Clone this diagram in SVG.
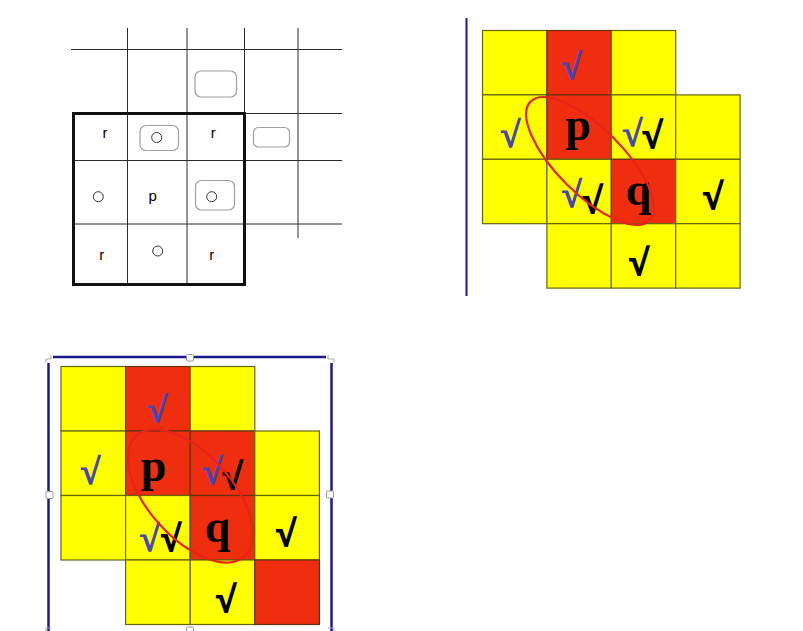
<svg xmlns="http://www.w3.org/2000/svg" width="803" height="631" viewBox="0 0 803 631">
<style>
.thin{stroke:#2a2a2a;stroke-width:1;fill:none}
.thick{stroke:#111;stroke-width:3;fill:none}
.rr{fill:#fff;stroke:#a0a0a0;stroke-width:1.2}
.circ{fill:#fff;stroke:#333;stroke-width:1}
.lbl{font-family:"Liberation Sans",Arial,sans-serif;font-size:15px;fill:#000;text-anchor:middle}
.y{fill:#ffff00;stroke:#66660f;stroke-width:1.2}
.r{fill:#ee2e0e;stroke:#66330f;stroke-width:1.2}
.big{font-family:"Liberation Serif","Times New Roman",serif;font-weight:bold;font-size:46px;fill:#000;text-anchor:middle}
.cb{font-family:"Liberation Serif","Times New Roman",serif;font-size:36px;fill:#4646b4;stroke:#4646b4;stroke-width:1.3;text-anchor:middle}
.ck{font-family:"Liberation Serif","Times New Roman",serif;font-weight:bold;font-size:36px;fill:#000;stroke:#000;stroke-width:2;text-anchor:middle}
.ell{fill:none;stroke:#e8221a;stroke-width:2.2}
.nav{stroke:#1a1a8c;stroke-width:2.5;fill:none}
.hd{fill:#fff;stroke:#9a9a9a;stroke-width:1}
</style>

<g id="panel1">
  <g id="grid1">
    <line class="thin" x1="71" y1="49.5" x2="342" y2="49.5"/>
    <line class="thin" x1="244" y1="113.5" x2="342" y2="113.5"/>
    <line class="thin" x1="73" y1="160.5" x2="342" y2="160.5"/>
    <line class="thin" x1="73" y1="224" x2="342" y2="224"/>
    <line class="thin" x1="127.5" y1="28" x2="127.5" y2="284"/>
    <line class="thin" x1="187" y1="28" x2="187" y2="284"/>
    <line class="thin" x1="244.5" y1="28" x2="244.5" y2="113"/>
    <line class="thin" x1="298" y1="28" x2="298" y2="238"/>
    <rect class="thick" x="73.5" y="113.5" width="171" height="171"/>
  </g>
  <rect id="slot1" class="rr" x="195" y="71" width="41.5" height="26" rx="6"/>
  <rect id="slot2" class="rr" x="253.5" y="127.5" width="36" height="19.5" rx="5"/>
  <g id="c_top"><rect class="rr" x="140" y="125.5" width="38.5" height="25" rx="6"/><circle class="circ" cx="156.7" cy="137.5" r="5"/></g>
  <g id="c_right"><rect class="rr" x="195.5" y="180.5" width="39" height="29.5" rx="6"/><circle class="circ" cx="211.7" cy="196.7" r="5"/></g>
  <g id="c_left"><circle class="circ" cx="98.3" cy="196.7" r="5"/></g>
  <g id="c_bottom"><circle class="circ" cx="157.7" cy="251" r="5"/></g>
  <text class="lbl" x="105" y="138">r</text>
  <text class="lbl" x="213.3" y="137.5">r</text>
  <text class="lbl" x="152.7" y="201">p</text>
  <text class="lbl" x="101.7" y="260">r</text>
  <text class="lbl" x="211.7" y="260">r</text>
</g>

<g id="panel2">
  <line class="nav" x1="466.5" y1="18" x2="466.5" y2="296" style="stroke-width:2"/>
  <g id="cells2">
    <rect class="y" x="482.5" y="30.5" width="64.4" height="64.4"/>
    <rect class="r" x="546.9" y="30.5" width="64.4" height="64.4"/>
    <rect class="y" x="611.3" y="30.5" width="64.4" height="64.4"/>
    <rect class="y" x="482.5" y="94.9" width="64.4" height="64.4"/>
    <rect class="r" x="546.9" y="94.9" width="64.4" height="64.4"/>
    <rect class="y" x="611.3" y="94.9" width="64.4" height="64.4"/>
    <rect class="y" x="675.7" y="94.9" width="64.4" height="64.4"/>
    <rect class="y" x="482.5" y="159.3" width="64.4" height="64.4"/>
    <rect class="y" x="546.9" y="159.3" width="64.4" height="64.4"/>
    <rect class="r" x="611.3" y="159.3" width="64.4" height="64.4"/>
    <rect class="y" x="675.7" y="159.3" width="64.4" height="64.4"/>
    <rect class="y" x="546.9" y="223.7" width="64.4" height="64.4"/>
    <rect class="y" x="611.3" y="223.7" width="64.4" height="64.4"/>
    <rect class="y" x="675.7" y="223.7" width="64.4" height="64.4"/>
  </g>
  <text class="big" x="578" y="140">p</text>
  <text class="big" x="638.5" y="205">q</text>
  <text class="cb" x="571.7" y="79">√</text>
  <text class="cb" x="510.3" y="147">√</text>
  <text class="cb" x="632.5" y="146">√</text>
  <text class="ck" x="652.5" y="148">√</text>
  <text class="cb" x="571.7" y="207">√</text>
  <text class="ck" x="592.5" y="213">√</text>
  <text class="ck" x="713" y="209">√</text>
  <text class="ck" x="639" y="275">√</text>
  <ellipse class="ell" cx="590" cy="161" rx="84" ry="33" transform="rotate(45 590 161)"/>
</g>

<g id="panel3">
  <g id="frame3">
    <line class="nav" x1="53" y1="357" x2="186" y2="357"/>
    <line class="nav" x1="194" y1="357" x2="326" y2="357"/>
    <line class="nav" x1="48.5" y1="363" x2="48.5" y2="631"/>
    <line class="nav" x1="331.5" y1="363" x2="331.5" y2="631"/>
    <path d="M46 363 L46 359 L51 359 L51 355" fill="none" stroke="#aaa" stroke-width="1"/>
    <path d="M328 355 L328 359 L334 359 L334 363" fill="none" stroke="#aaa" stroke-width="1"/>
    <rect class="hd" x="186.5" y="354.5" width="7" height="6.5" rx="1"/>
    <rect class="hd" x="46" y="491.5" width="7" height="7" rx="1"/>
    <rect class="hd" x="326.5" y="491" width="7" height="7" rx="1"/>
    <rect class="hd" x="186.5" y="627" width="7" height="6" rx="1"/>
    <path d="M46 631 L46 628 L51 628" fill="none" stroke="#aaa" stroke-width="1"/>
    <path d="M328 628 L334 628 L334 631" fill="none" stroke="#aaa" stroke-width="1"/>
  </g>
  <g id="cells3">
    <rect class="y" x="61" y="366.5" width="64.6" height="64.5"/>
    <rect class="r" x="125.6" y="366.5" width="64.6" height="64.5"/>
    <rect class="y" x="190.2" y="366.5" width="64.6" height="64.5"/>
    <rect class="y" x="61" y="431" width="64.6" height="64.5"/>
    <rect class="r" x="125.6" y="431" width="64.6" height="64.5"/>
    <rect class="r" x="190.2" y="431" width="64.6" height="64.5"/>
    <rect class="y" x="254.8" y="431" width="64.6" height="64.5"/>
    <rect class="y" x="61" y="495.5" width="64.6" height="64.5"/>
    <rect class="y" x="125.6" y="495.5" width="64.6" height="64.5"/>
    <rect class="r" x="190.2" y="495.5" width="64.6" height="64.5"/>
    <rect class="y" x="254.8" y="495.5" width="64.6" height="64.5"/>
    <rect class="y" x="125.6" y="560" width="64.6" height="64.5"/>
    <rect class="y" x="190.2" y="560" width="64.6" height="64.5"/>
    <rect class="r" x="254.8" y="560" width="64.6" height="64.5"/>
  </g>
  <text class="big" x="153.5" y="481">p</text>
  <text class="big" x="217.5" y="542">q</text>
  <text class="cb" x="157.5" y="422">√</text>
  <text class="cb" x="90.5" y="484">√</text>
  <text class="cb" x="212.5" y="484">√</text>
  <text class="ck" x="232.5" y="489">√</text>
  <text class="cb" x="149.7" y="551">√</text>
  <text class="ck" x="170.8" y="551">√</text>
  <text class="ck" x="286" y="546">√</text>
  <text class="ck" x="226" y="612">√</text>
  <ellipse class="ell" cx="190.5" cy="496" rx="81" ry="42" transform="rotate(48 190.5 496)"/>
</g>
</svg>
